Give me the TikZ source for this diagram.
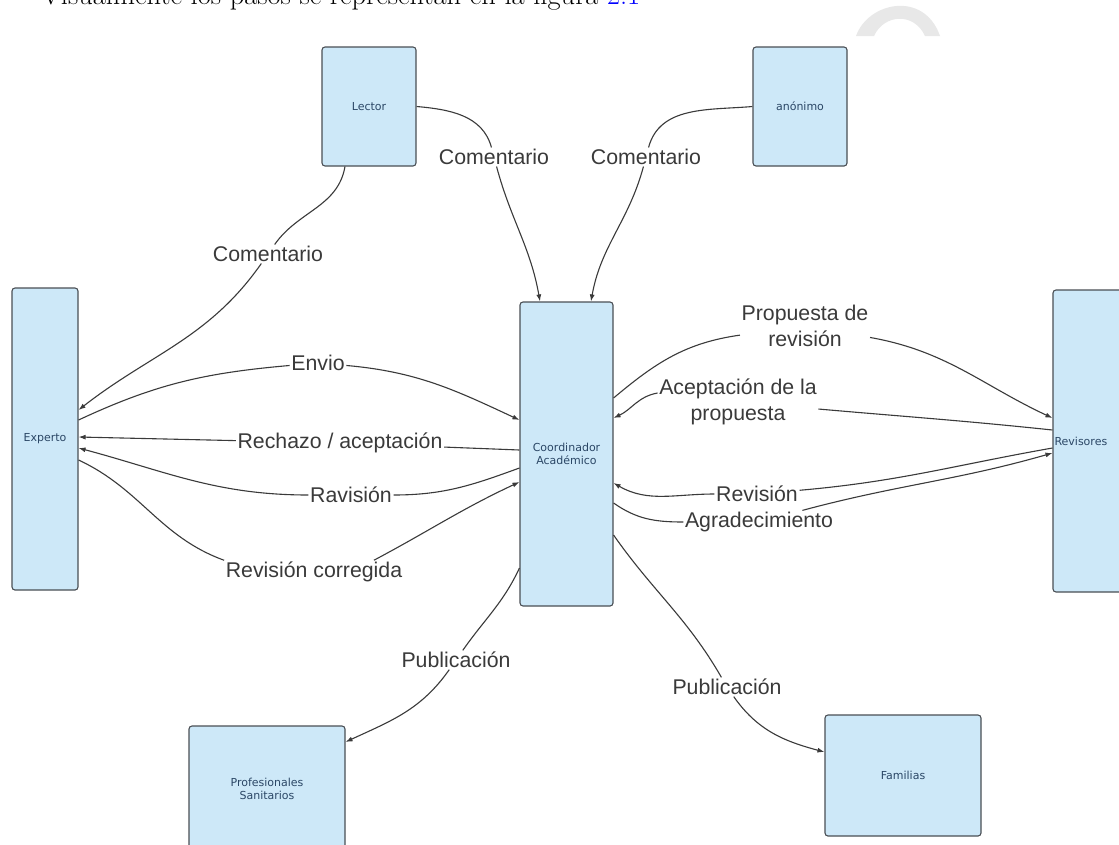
\documentclass[tikz,border=0pt]{standalone}
\usepackage{fontspec}
\newfontfamily\labelfont{Liberation Sans}
\newfontfamily\boxfont{DejaVu Sans}
\usetikzlibrary{arrows.meta}
\definecolor{boxfill}{HTML}{CDE8F8}
\definecolor{boxline}{HTML}{4A4F55}
\definecolor{boxtext}{HTML}{2B4766}
\definecolor{wire}{HTML}{3A3A3A}
\definecolor{lbltext}{HTML}{3A3A3A}
\definecolor{refblue}{HTML}{0000FF}
\tikzset{
  actor/.style={draw=boxline, fill=boxfill, line width=1.1pt, rounded corners=3pt,
    font=\boxfont\fontsize{11}{13}\selectfont, text=boxtext, align=center, inner sep=0pt},
  flowlabel/.style={fill=white, inner sep=1.5pt, text=lbltext, align=center,
    font=\labelfont\fontsize{21.3}{26}\selectfont},
  wire/.style={draw=wire, line width=1.1pt, -{Latex[length=7pt,width=5pt]}},
}
\begin{document}
\begin{tikzpicture}[x=1pt,y=-1pt]
\useasboundingbox (0,0) rectangle (1119,844);
\clip (0,0) rectangle (1119,844);
\fill[white] (0,0) rectangle (1119,844);

% running text line above the figure
\node[anchor=base west, inner sep=0pt, font=\fontsize{28.5}{32}\selectfont] (intro) at (41,4)
  {Visualmente los pasos se representan en la figura \textcolor{refblue}{2.1}};
% grey crescent mark in the corner
\fill[gray!18] (856,36) .. controls (868,2) and (924,-10) .. (940,36)
  -- (925,36) .. controls (914,12) and (884,14) .. (874,36) -- cycle;

% actors
\node[actor, minimum width=94pt, minimum height=119pt] (lector) at (369,106.5) {Lector};
\node[actor, minimum width=94pt, minimum height=119pt] (anonimo) at (800,106.5) {anónimo};
\node[actor, minimum width=66pt, minimum height=302pt] (experto) at (45,439) {Experto};
\node[actor, minimum width=93pt, minimum height=304pt] (coord) at (566.5,454) {Coordinador\\Académico};
\node[actor, minimum width=75pt, minimum height=302pt, text width=72pt, align=left] (revisores) at (1090.5,441) {Revisores};
\node[actor, minimum width=156pt, minimum height=126pt] (prof) at (267,789) {Profesionales\\Sanitarios};
\node[actor, minimum width=156pt, minimum height=121pt] (familias) at (903,775.5) {Familias};

% connector labels
\node[flowlabel] (c1) at (268,254) {Comentario};
\node[flowlabel] (c2) at (494,157) {Comentario};
\node[flowlabel] (c3) at (646,157) {Comentario};
\node[flowlabel] (envio) at (318,363) {Envio};
\node[flowlabel] (rechazo) at (340,443) {Rechazo / aceptación};
\node[flowlabel] (ravision) at (351,495) {Ravisión};
\node[flowlabel] (revcorr) at (314,572) {Revisión corregida};
\node[flowlabel] (propuesta) at (805,326) {Propuesta de\\revisión};
\node[flowlabel] (aceptacion) at (738,402) {Aceptación de la\\propuesta};
\node[flowlabel] (revision) at (757,494) {Revisión};
\node[flowlabel] (agradec) at (759,522) {Agradecimiento};
\node[flowlabel] (pub1) at (456,660) {Publicación};
\node[flowlabel] (pub2) at (727,687) {Publicación};

% comments from the readers
\draw[wire] ([xshift=-24pt]lector.south) to[out=-100,in=55] (c1)
  to[out=235,in=38] ([yshift=29pt]experto.east);
\draw[wire] (lector.east) to[out=-5,in=105] (c2)
  to[out=-75,in=100] ([xshift=-26.5pt]coord.north);
\draw[wire] (anonimo.west) to[out=185,in=75] (c3)
  to[out=-105,in=80] ([xshift=24.5pt]coord.north);

% expert <-> coordinator
\draw[wire] ([yshift=19pt]experto.east) to[out=25,in=185] (envio)
  to[out=-5,in=155] ([yshift=34pt]coord.west);
\draw[wire] ([yshift=4pt]coord.west) -- (rechazo) -- ([yshift=2pt]experto.east);
\draw[wire] ([yshift=-14pt]coord.west) to[out=200,in=0] (ravision)
  to[out=180,in=-15] ([yshift=-9pt]experto.east);
\draw[wire] ([yshift=-21pt]experto.east) to[out=-25,in=160] (revcorr.north west)
  ([xshift=-30pt]revcorr.north east) to[out=28,in=205] ([yshift=-28pt]coord.west);

% coordinator <-> reviewers
\draw[wire] ([yshift=56pt]coord.east) to[out=40,in=188] (propuesta)
  to[out=-10,in=155] ([yshift=23pt]revisores.west);
\draw[wire] ([yshift=11pt]revisores.west) to[out=174,in=-5] (aceptacion)
  ([yshift=9pt]aceptacion.west) to[out=190,in=25] ([yshift=36pt]coord.east);
\draw[wire] ([yshift=-7pt]revisores.west) to[out=190,in=5] (revision)
  to[out=180,in=-30] ([yshift=-29pt]coord.east);
\draw[wire] ([yshift=-49pt]coord.east) to[out=-35,in=180] (agradec)
  to[out=15,in=196] ([yshift=-12pt]revisores.west);

% publication
\draw[wire] ([yshift=-114pt]coord.west) to[out=-115,in=55] (pub1)
  to[out=-125,in=25] ([yshift=47pt]prof.east);
\draw[wire] ([yshift=-81pt]coord.east) to[out=-55,in=120] (pub2)
  to[out=-55,in=165] ([yshift=23.5pt]familias.west);
\end{tikzpicture}
\end{document}
